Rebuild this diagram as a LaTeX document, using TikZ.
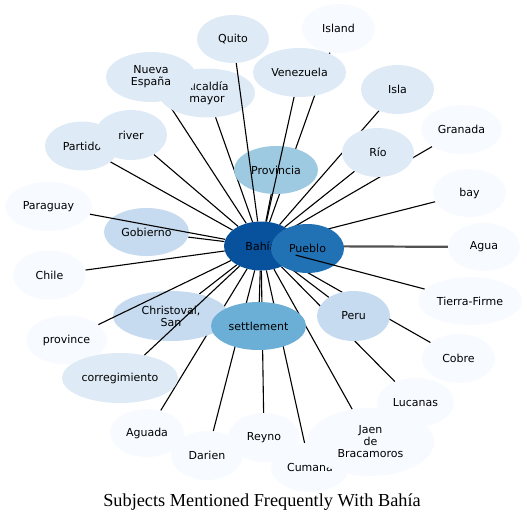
\documentclass[tikz,border=0pt]{standalone}
\usepackage{fontspec}
\newfontfamily\nodefont{DejaVu Sans}
\newfontfamily\titlefont{Liberation Serif}
\usepackage{tikz}
\usetikzlibrary{shapes.geometric,backgrounds}
\definecolor{blues0}{HTML}{F7FBFF}
\definecolor{blues1}{HTML}{DEEBF7}
\definecolor{blues2}{HTML}{C6DBEF}
\definecolor{blues3}{HTML}{9ECAE1}
\definecolor{blues4}{HTML}{6BAED6}
\definecolor{blues6}{HTML}{2171B5}
\definecolor{blues7}{HTML}{08519C}
\begin{document}
\begin{tikzpicture}[x=1pt,y=-1pt,
	bub/.style={ellipse,inner sep=0pt,align=center,text=black,
		font=\nodefont\fontsize{11}{12}\selectfont},
	w0/.style={bub,fill=blues0},
	w1/.style={bub,fill=blues1},
	w2/.style={bub,fill=blues2},
	w3/.style={bub,fill=blues3},
	w4/.style={bub,fill=blues4},
	w6/.style={bub,fill=blues6},
	w7/.style={bub,fill=blues7},
	link/.style={line width=1.1pt,black},
	heavy/.style={line width=2.2pt,black!68}]
	\useasboundingbox (0,0) rectangle (527,527);
	%% centre
	\node[w7,minimum width=74,minimum height=49] (bahia) at (261,246) {Bahía};
	\node[w6,minimum width=73,minimum height=49] (pueblo) at (307.5,248.5) {Pueblo};
	%% inner ring
	\node[w3,minimum width=84,minimum height=48] (prov) at (276,170) {Provincia};
	\node[w2,minimum width=85,minimum height=48] (gob) at (146.5,232) {Gobierno};
	\node[w2,minimum width=116,minimum height=50] (chris) at (171,316) {Christoval,\\San};
	\node[w4,minimum width=95,minimum height=48] (settle) at (258.5,326) {settlement};
	\node[w2,minimum width=73,minimum height=50] (peru) at (353.5,316) {Peru};
	\node[w1,minimum width=72,minimum height=49] (rio) at (378,152.5) {Río};
	%% outer ring, top
	\node[w1,minimum width=72,minimum height=48] (quito) at (233,39) {Quito};
	\node[w1,minimum width=96,minimum height=49] (alcal) at (207,93) {Alcaldía\\mayor};
	\node[w1,minimum width=90,minimum height=50] (nueva) at (151,77) {Nueva\\España};
	\node[w1,minimum width=74,minimum height=49] (partido) at (82,146) {Partido};
	\node[w1,minimum width=72,minimum height=50] (river) at (131,135) {river};
	\node[w0,minimum width=73,minimum height=49] (island) at (338.5,28.5) {Island};
	\node[w1,minimum width=93,minimum height=49] (venez) at (299.5,72.5) {Venezuela};
	\node[w1,minimum width=73,minimum height=49] (isla) at (397.5,89.5) {Isla};
	\node[w0,minimum width=81,minimum height=49] (granada) at (461.5,129.5) {Granada};
	%% outer ring, right
	\node[w0,minimum width=73,minimum height=48] (bay) at (469.5,193) {bay};
	\node[w0,minimum width=72,minimum height=48] (agua) at (484,247) {Agua};
	\node[w0,minimum width=104,minimum height=48] (tierra) at (470,301) {Tierra-Firme};
	\node[w0,minimum width=73,minimum height=49] (cobre) at (458.5,358.5) {Cobre};
	%% outer ring, bottom
	\node[w0,minimum width=77,minimum height=49] (lucanas) at (415.5,402.5) {Lucanas};
	\node[w0,minimum width=72,minimum height=49] (reyno) at (264,437.5) {Reyno};
	\node[w0,minimum width=78,minimum height=49] (cumana) at (310,467.5) {Cumaná};
	\node[w0,minimum width=127,minimum height=68] (jaen) at (370.5,442) {Jaen\\de\\Bracamoros};
	\node[w0,minimum width=74,minimum height=48] (aguada) at (147,433) {Aguada};
	\node[w0,minimum width=72,minimum height=49] (darien) at (207,455.5) {Darien};
	%% outer ring, left
	\node[w0,minimum width=81,minimum height=49] (province) at (66.5,340) {province};
	\node[w1,minimum width=116,minimum height=50] (correg) at (120,378) {corregimiento};
	\node[w0,minimum width=73,minimum height=49] (chile) at (49.5,275) {Chile};
	\node[w0,minimum width=87,minimum height=49] (paraguay) at (48.5,206.5) {Paraguay};
	% edges hidden by the nodes they cross
	\begin{pgfonlayer}{background}
		\foreach \t in {pueblo,prov,gob,chris,settle,peru,rio,alcal,nueva,partido,river,island,isla,granada,bay,cobre,lucanas,reyno,cumana,jaen,aguada,darien,chile}
			\draw[link] (bahia) -- (\t);
		\draw[heavy] (bahia) -- (agua);
	\end{pgfonlayer}
	% edges lying over the nodes
	\foreach \t in {quito,venez,paraguay,province,correg,tierra}
		\draw[link] (bahia) -- (\t);
	\node[font=\titlefont\fontsize{18.3}{20}\selectfont,anchor=base] (title) at (262,506) {Subjects Mentioned Frequently With Bahía};
\end{tikzpicture}
\end{document}
